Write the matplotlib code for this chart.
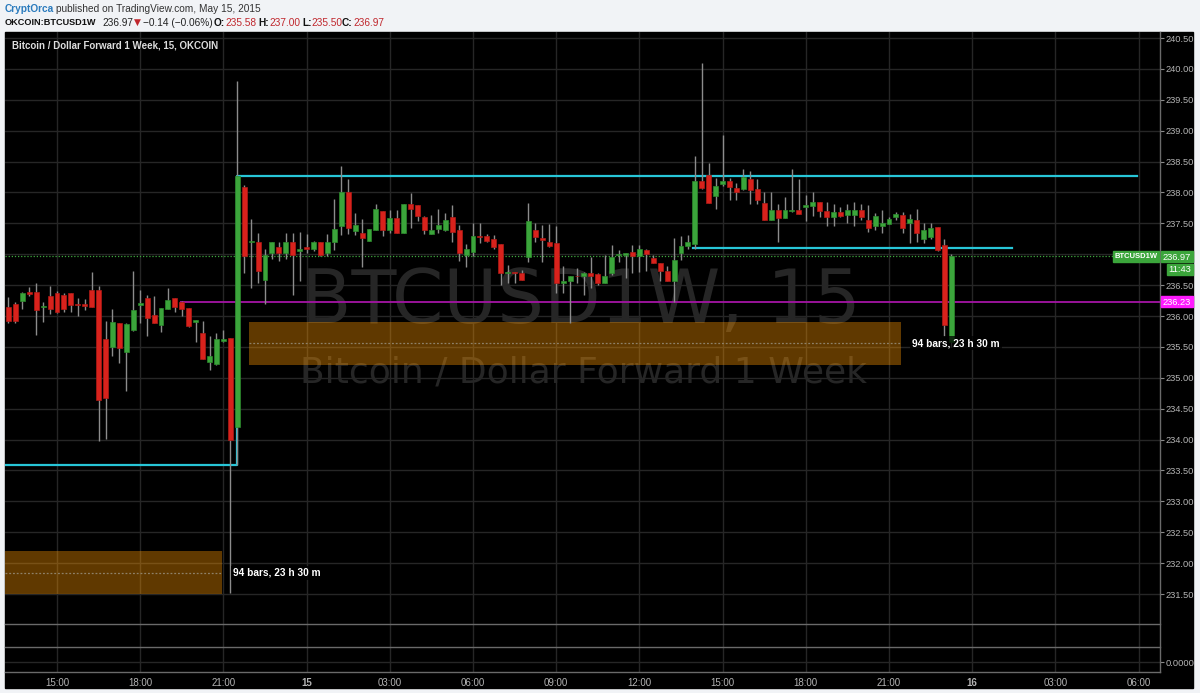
import numpy as np
import matplotlib
matplotlib.use("Agg")
import matplotlib.pyplot as plt
from matplotlib.patches import Rectangle

# 15-minute OKCOIN BTCUSD1W candles, first bar = 14 May 13:15 (bar 0 = 15:00)
opens = [236.15, 236.20, 236.24, 236.39, 236.39, 236.14, 236.32, 236.38, 236.34, 236.38,
         236.19, 236.19, 236.42, 236.42, 235.63, 235.50, 235.88, 235.41, 235.78, 236.18,
         236.29, 236.02, 235.85, 236.11, 236.29, 236.23, 236.13, 235.91, 235.73, 235.26,
         235.22, 235.59, 235.65, 234.21, 238.09, 237.19, 237.19, 236.59, 237.02, 237.12,
         237.02, 237.19, 237.06, 237.12, 237.08, 237.19, 237.02, 237.19, 237.45, 238.00,
         237.38, 237.34, 237.22, 237.40, 237.70, 237.40, 237.58, 237.35, 237.82, 237.79,
         237.60, 237.33, 237.41, 237.39, 237.60, 237.40, 236.99, 237.04, 237.30, 237.30,
         237.25, 237.16, 236.69, 236.71, 236.70, 236.96, 237.40, 237.26, 237.20, 237.18,
         236.54, 236.56, 236.65, 236.64, 236.70, 236.68, 236.54, 236.70, 236.98, 236.99,
         237.04, 236.97, 237.07, 236.94, 236.86, 236.73, 236.56, 237.02, 237.13, 237.17,
         238.19, 238.28, 237.94, 238.13, 238.19, 238.07, 238.05, 238.22, 238.05, 237.83,
         237.56, 237.72, 237.59, 237.70, 237.71, 237.77, 237.78, 237.84, 237.70, 237.61,
         237.68, 237.63, 237.63, 237.71, 237.55, 237.46, 237.46, 237.49, 237.61, 237.63,
         237.50, 237.55, 237.25, 237.28, 237.44, 237.15, 235.58]
highs = [236.31, 236.23, 236.39, 236.47, 236.53, 236.23, 236.49, 236.40, 236.38, 236.38,
         236.29, 236.27, 236.71, 236.49, 235.92, 236.11, 235.88, 235.89, 236.73, 236.42,
         236.34, 236.32, 236.13, 236.45, 236.29, 236.24, 236.13, 235.93, 235.92, 235.67,
         235.72, 235.78, 235.65, 239.80, 238.12, 237.57, 237.34, 237.08, 237.19, 237.20,
         237.35, 237.34, 237.36, 237.33, 237.21, 237.19, 237.32, 237.89, 238.43, 238.22,
         237.67, 237.57, 237.41, 237.82, 237.70, 237.72, 237.72, 237.82, 237.99, 237.79,
         237.62, 237.63, 237.73, 237.67, 237.79, 237.47, 237.17, 237.51, 237.50, 237.33,
         237.31, 237.16, 236.82, 236.71, 236.75, 237.83, 237.51, 237.47, 237.49, 237.46,
         236.81, 236.65, 236.77, 236.71, 236.96, 236.69, 236.99, 237.15, 237.07, 237.02,
         237.15, 237.15, 237.08, 236.99, 236.86, 236.81, 237.26, 237.29, 237.31, 238.59,
         240.09, 238.48, 238.24, 238.93, 238.24, 238.16, 238.38, 238.34, 238.21, 238.01,
         238.00, 237.81, 237.93, 238.38, 238.22, 237.96, 238.00, 237.84, 237.85, 237.82,
         237.77, 237.81, 237.84, 237.81, 237.80, 237.66, 237.72, 237.61, 237.69, 237.68,
         237.65, 237.74, 237.50, 237.50, 237.44, 237.24, 237.00]
lows = [235.88, 235.88, 236.12, 236.32, 235.70, 235.90, 236.03, 236.05, 236.06, 236.07,
        236.00, 236.09, 236.15, 233.98, 234.01, 235.35, 235.24, 234.79, 235.76, 235.88,
        235.67, 235.89, 235.74, 236.11, 236.07, 236.00, 235.83, 235.58, 235.30, 235.13,
        235.21, 235.58, 231.52, 233.59, 236.70, 236.46, 236.54, 236.20, 236.92, 236.89,
        236.93, 236.34, 236.57, 237.02, 237.06, 236.97, 236.97, 237.07, 237.31, 237.33,
        237.31, 236.79, 237.22, 237.39, 237.29, 237.35, 237.35, 237.34, 237.42, 237.53,
        237.32, 237.33, 237.35, 237.38, 237.19, 236.89, 236.79, 236.97, 237.18, 237.19,
        237.08, 236.50, 236.54, 236.54, 236.59, 236.88, 237.20, 236.88, 237.11, 236.38,
        236.38, 235.89, 236.54, 236.34, 236.45, 236.50, 236.54, 236.66, 236.88, 236.61,
        236.70, 236.72, 236.73, 236.85, 236.56, 236.56, 236.23, 236.90, 237.09, 237.08,
        238.05, 237.83, 237.74, 238.10, 237.87, 237.87, 238.04, 237.81, 237.81, 237.55,
        237.56, 237.19, 237.59, 237.69, 237.65, 237.53, 237.62, 237.60, 237.46, 237.45,
        237.61, 237.50, 237.46, 237.55, 237.36, 237.39, 237.35, 237.49, 237.55, 237.34,
        237.18, 237.20, 237.18, 237.24, 237.06, 235.68, 235.50]
closes = [235.92, 235.92, 236.37, 236.36, 236.09, 236.16, 236.11, 236.06, 236.11, 236.18,
          236.18, 236.17, 236.15, 234.64, 234.68, 235.91, 235.49, 235.87, 236.09, 236.21,
          235.97, 235.89, 236.13, 236.26, 236.15, 236.11, 235.84, 235.93, 235.30, 235.35,
          235.63, 235.63, 234.00, 238.27, 236.97, 237.22, 236.73, 236.99, 237.19, 237.02,
          237.19, 236.98, 237.09, 237.08, 237.19, 236.99, 237.19, 237.41, 238.00, 237.42,
          237.47, 237.26, 237.41, 237.73, 237.40, 237.58, 237.35, 237.82, 237.73, 237.62,
          237.40, 237.40, 237.47, 237.55, 237.36, 237.02, 237.08, 237.30, 237.28, 237.22,
          237.11, 236.69, 236.71, 236.69, 236.59, 237.53, 237.28, 237.23, 237.13, 236.54,
          236.56, 236.65, 236.64, 236.69, 236.64, 236.54, 236.65, 236.96, 237.00, 237.02,
          236.97, 237.08, 237.00, 236.85, 236.73, 236.56, 236.90, 237.13, 237.19, 238.19,
          238.07, 237.83, 238.10, 238.19, 238.09, 238.01, 238.25, 238.04, 237.87, 237.55,
          237.72, 237.59, 237.71, 237.72, 237.65, 237.80, 237.84, 237.70, 237.60, 237.68,
          237.62, 237.71, 237.71, 237.61, 237.42, 237.62, 237.50, 237.57, 237.65, 237.43,
          237.57, 237.35, 237.39, 237.43, 237.07, 235.85, 236.97]
first_bar = -7

time_ticks = [0, 12, 24, 36, 48, 60, 72, 84, 96, 108, 120, 132, 144, 156]
time_labels = ['15:00', '18:00', '21:00', '15', '03:00', '06:00', '09:00',
               '12:00', '15:00', '18:00', '21:00', '16', '03:00', '06:00']
price_ticks = np.arange(231.5, 240.51, 0.5)

last_price = 236.97
magenta_level = 236.23
magenta_start = 17.7
# cyan step lines: (level, from bar, to bar)
cyan_low = (233.59, -7.5, 26)
cyan_high = (238.27, 26, 155.7)
cyan_mid = (237.10, 91.8, 137.7)
# date range boxes: (left bar, bottom, top), 94 bars wide
range_boxes = [(-70.2, 231.50, 232.19), (27.7, 235.21, 235.91)]
range_label = '94 bars, 23 h 30 m'

W, H = 1200, 693
X0, X1 = 5, 1160
PX_PER_BAR = 83.2 / 12
UP, DOWN, WICK = '#3ba53b', '#d8221c', '#8c8c8c'
FONT = 'Liberation Sans'


def bar_x(px):
    return (px - 57) / PX_PER_BAR


def price_y(py):
    return 240.5 - (py - 38) / 61.78


def pix_axes(z):
    a = fig.add_axes([0, 0, 1, 1], zorder=z)
    a.set_xlim(0, W)
    a.set_ylim(H, 0)
    a.axis('off')
    a.patch.set_alpha(0)
    return a


def pane(top, bottom, z=1):
    a = fig.add_axes([X0 / W, 1 - bottom / H, (X1 - X0) / W, (bottom - top) / H], zorder=z)
    a.set_facecolor('none')
    a.set_xlim(bar_x(X0), bar_x(X1))
    a.set_xticks(time_ticks)
    a.grid(True, axis='x', color='#262626', lw=1)
    a.set_axisbelow(True)
    for s in a.spines.values():
        s.set_visible(False)
    a.tick_params(axis='x', length=0, labelbottom=False)
    return a


fig = plt.figure(figsize=(W / 100, H / 100), dpi=100)
fig.patch.set_facecolor('#f1f3f6')

bg = pix_axes(0)
bg.add_patch(Rectangle((5, 32), 1188, 656, color='black'))

# main price pane
ax = pane(32, 624)
ax.set_ylim(price_y(624), price_y(32))
ax.yaxis.tick_right()
ax.set_yticks(price_ticks)
# the 237.00 label sits under the last-price tag, so it is left blank
ax.set_yticklabels(['' if abs(p - last_price) < 0.1 else f'{p:.2f}' for p in price_ticks],
                   fontfamily=FONT)
ax.tick_params(axis='y', length=3, width=0.8, color='#8a8a8a', labelcolor='#b4b4b4',
               labelsize=6.7, pad=1)
ax.grid(True, axis='y', color='#262626', lw=1)

# watermark
ax.text(bar_x(581), price_y(303), 'BTCUSD1W, 15', color='#262626', fontsize=53,
        fontfamily='DejaVu Sans', ha='center', va='center', zorder=0.4)
ax.text(bar_x(583), price_y(372), 'Bitcoin / Dollar Forward 1 Week', color='#262626',
        fontsize=26, fontfamily='DejaVu Sans', ha='center', va='center', zorder=0.4)

# date range boxes
for left, lo, hi in range_boxes:
    ax.add_patch(Rectangle((left, lo), 94, hi - lo, facecolor='#ff9800', alpha=0.38,
                           edgecolor='none', zorder=1))
    mid = (lo + hi) / 2
    ax.plot([max(left, bar_x(X0)), left + 94], [mid, mid], color='#8f8168', lw=0.9,
            ls=(0, (1.5, 1.5)), zorder=1.1)
    ax.text(left + 94 + 1.6, mid, range_label, color='white', fontsize=7.3,
            fontweight='bold', fontfamily=FONT, ha='left', va='center', zorder=6,
            bbox=dict(facecolor='black', edgecolor='none', alpha=0.75, pad=1.5))

# level lines
ax.axhline(last_price, color='#3ea83e', lw=0.9, ls=(0, (1, 1.5)), zorder=2)
ax.hlines(magenta_level, magenta_start, bar_x(X1), color='#a414a4', lw=1.3, zorder=2)
lv, a0, a1 = cyan_low
hv, b0, b1 = cyan_high
ax.plot([a0, a1, b0, b1], [lv, lv, hv, hv], color='#27c6d8', lw=1.6, zorder=2.5)
mv, m0, m1 = cyan_mid
ax.plot([m0, m1], [mv, mv], color='#27c6d8', lw=1.6, zorder=2.5)

# candles
t = np.arange(len(opens)) + first_bar
o, h, l, c = map(np.array, (opens, highs, lows, closes))
up = c >= o
ax.vlines(t, l, h, color=WICK, lw=1, zorder=3)
ax.bar(t[up], c[up] - o[up], bottom=o[up], width=0.72, color=UP,
       edgecolor='#2c8a2c', lw=0.5, zorder=4)
ax.bar(t[~up], o[~up] - c[~up], bottom=c[~up], width=0.72, color=DOWN,
       edgecolor='#b01a16', lw=0.5, zorder=4)

# empty indicator pane and bottom pane with time axis
ax2 = pane(624, 647)
ax2.set_yticks([])
ax3 = pane(647, 672)
ax3.set_ylim(-0.4, 0.6)
ax3.yaxis.tick_right()
ax3.set_yticks([0])
ax3.set_yticklabels(['0.0000'], fontfamily=FONT)
ax3.grid(True, axis='y', color='#262626', lw=1)
ax3.tick_params(axis='y', length=3, width=0.8, color='#8a8a8a', labelcolor='#b4b4b4',
                labelsize=6.7, pad=1)
ax3.tick_params(axis='x', labelbottom=True, labelsize=7, labelcolor='#b4b4b4', pad=4)
ax3.set_xticklabels(time_labels, fontfamily=FONT)
for lab in ax3.get_xticklabels():
    if ':' not in lab.get_text():
        lab.set_fontweight('bold')

fg = pix_axes(5)
for yy in (624, 647, 672):
    fg.plot([X0, X1], [yy, yy], color='#6a6a6a', lw=1)
fg.plot([X1, X1], [32, 672], color='#6a6a6a', lw=1)


def tag(x0, x1, y0, y1, text, color, bold=False, size=6.7):
    fg.add_patch(Rectangle((x0, y0), x1 - x0, y1 - y0, color=color, zorder=3))
    fg.text((x0 + x1) / 2, (y0 + y1) / 2 + 0.5, text, color='white', fontsize=size,
            fontfamily=FONT, fontweight='bold' if bold else 'normal',
            ha='center', va='center', zorder=4)


tag(1112.5, 1158.7, 250.7, 262.3, 'BTCUSD1W', '#3ba53b', bold=True, size=5.5)
tag(1160.5, 1192.7, 250.7, 262.3, f'{last_price:.2f}', '#3ba53b')
tag(1167.3, 1192.7, 264, 275, '11:43', '#3ba53b')
tag(1160.5, 1192.7, 296, 307.3, f'{magenta_level:.2f}', '#ff1aff')

# chart title
fg.text(12, 45, 'Bitcoin / Dollar Forward 1 Week, 15, OKCOIN', color='#dcdcdc',
        fontsize=7, fontweight='bold', fontfamily=FONT, va='center')

# header
hdr = dict(fontfamily=FONT, fontsize=7.3, va='center')
fg.text(5, 8.5, 'CryptOrca', color='#2b7bbd', fontweight='bold', **hdr)
fg.text(56, 8.5, 'published on TradingView.com, May 15, 2015', color='#333333', **hdr)
fg.text(5, 22.5, 'OKCOIN:BTCUSD1W', color='#111111', fontweight='bold',
        fontfamily=FONT, fontsize=6.6, va='center')
row2 = [(102, '236.97', '#222222', 'normal'),
        (143, '\u22120.14 (\u22120.06%)', '#222222', 'normal'),
        (214, 'O:', '#111111', 'bold'), (225, '235.58', '#c0272d', 'normal'),
        (258, 'H:', '#111111', 'bold'), (269, '237.00', '#c0272d', 'normal'),
        (302, 'L:', '#111111', 'bold'), (311, '235.50', '#c0272d', 'normal'),
        (342, 'C:', '#111111', 'bold'), (353, '236.97', '#c0272d', 'normal')]
for x, s, col, wt in row2:
    fg.text(x, 22.5, s, color=col, fontweight=wt, **hdr)
fg.text(137.5, 22.5, '\u25bc', color='#c0272d', fontsize=6.5, fontfamily='DejaVu Sans',
        ha='center', va='center')

fig.savefig('out.png', dpi=100, facecolor=fig.get_facecolor())
